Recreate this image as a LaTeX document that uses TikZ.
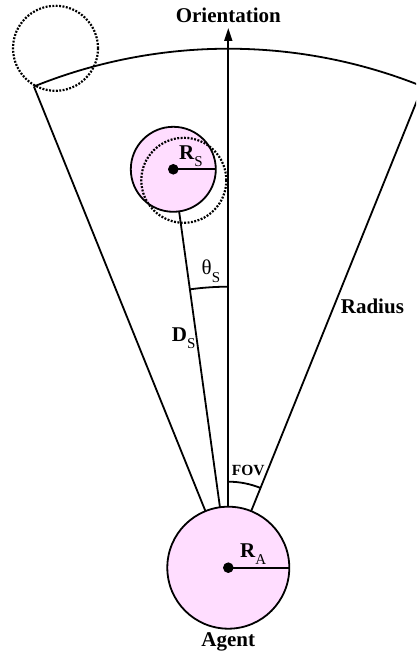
\documentclass[tikz,border=0pt]{standalone}
\usepackage{fontspec}
\setmainfont{Liberation Serif}
\usetikzlibrary{arrows.meta}
\definecolor{pinkfill}{RGB}{255,221,255}
\tikzset{
  body/.style={circle, draw, line width=1.8pt, fill=pinkfill, inner sep=0pt, outer sep=0pt},
  ghost/.style={circle, draw, line width=2.2pt, dash pattern=on 1.9pt off 1.5pt, inner sep=0pt, outer sep=0pt, minimum size=85pt},
  edge/.style={line width=1.8pt},
  lbl/.style={inner sep=0pt, font=\fontsize{21}{21}\selectfont\bfseries},
  sub/.style={font=\fontsize{15}{15}\selectfont}
}
\newcommand{\subdrop}[2]{\raisebox{-#1}{\fontsize{15}{15}\fontseries{m}\selectfont #2}}
\begin{document}
\begin{tikzpicture}[x=1pt,y=1pt]
\useasboundingbox (0,0) rectangle (416,657);
\clip (0,0) rectangle (416,657);
% ghost (dotted) circles
\node[ghost] (G1) at (55.5,608.7) {};
% agent and sensed object
\node[body, minimum size=122pt] (A) at (228.3,89.3) {};
\node[body, minimum size=85pt] (S) at (173.3,487.7) {};
\node[ghost] (G2) at (183.8,476.7) {};
% sector
\coordinate (L) at (33.9,570.5);
\coordinate (R) at (422.7,570.5);
\draw[edge] (A.112) -- (L);
\draw[edge] (A.68) -- (R);
\draw[edge] (L) arc[start angle=112, end angle=68, radius=519];
% orientation
\coordinate (tip) at (228.3,629);
\draw[edge, -{Triangle[length=13pt,width=8pt]}] (A.north) -- (tip);
% distance line
\draw[edge] (A) -- (S);
% angle arcs
\coordinate (th) at (228.3,370.3);
\draw[edge] (th) arc[start angle=90, end angle=97.86, radius=281];
\coordinate (fv) at (228.3,175.3);
\draw[edge] (fv) arc[start angle=90, end angle=68, radius=86];
% radii and centre dots
\draw[edge] (A.center) -- (A.east);
\fill (A.center) circle (5.3);
\draw[edge] (S.center) -- (S.east);
\fill (S.center) circle (5.3);
% labels
\node[lbl, anchor=base] (orient) at (228.3,634) {Orientation};
\node[lbl, anchor=base] (agent) at (228.3,10) {Agent};
\node[lbl, anchor=base west] (ra) at (240,99) {R\subdrop{7pt}{A}};
\node[lbl, anchor=base west] (rs) at (179,497.7) {R\subdrop{7.4pt}{S}};
\node[lbl, anchor=base west, font=\fontsize{21}{21}\selectfont] (ts) at (201.5,382) {θ\subdrop{8pt}{S}};
\node[lbl, anchor=base west] (ds) at (171.7,315.3) {D\subdrop{6.6pt}{S}};
\node[lbl, anchor=base west] (rad) at (340.7,343.7) {Radius};
\node[lbl, anchor=base west, font=\fontsize{15.5}{15.5}\selectfont\bfseries] (fov) at (231.7,181) {FOV};
\end{tikzpicture}
\end{document}
